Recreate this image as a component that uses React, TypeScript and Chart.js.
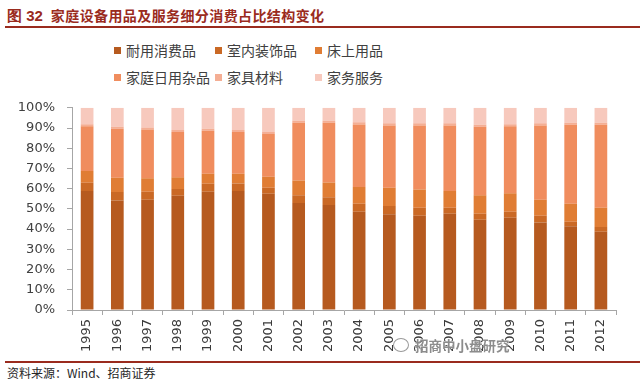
import React, { useEffect, useRef } from "react";
import { Chart, registerables } from "chart.js";

Chart.register(...registerables);

const years = ["1995","1996","1997","1998","1999","2000","2001","2002","2003","2004","2005","2006","2007","2008","2009","2010","2011","2012"];
const seriesNames = ["耐用消费品", "室内装饰品", "床上用品", "家庭日用杂品", "家具材料", "家务服务"];
const seriesColors = ["#B65A1F", "#CA6925", "#E07D34", "#F08D5E", "#F4AE94", "#F7C9BD"];

const durable = [58.8, 54.2, 54.5, 56.5, 58.5, 58.8, 57.5, 52.9, 51.9, 48.6, 47.3, 46.6, 47.6, 44.6, 45.6, 43.3, 41.4, 38.7];
const interior = [4.1, 4.1, 4.0, 3.3, 3.9, 3.8, 3.0, 3.9, 3.9, 4.0, 4.1, 4.0, 3.0, 3.0, 3.0, 3.3, 2.3, 2.3];
const bedding = [5.8, 7.1, 6.6, 5.9, 5.0, 4.8, 5.4, 7.3, 7.3, 8.2, 9.1, 9.0, 8.2, 9.2, 9.2, 7.9, 8.9, 9.6];
const dailyGoods = [22.2, 24.2, 24.2, 22.3, 21.2, 20.6, 21.1, 28.5, 29.5, 31.0, 30.8, 31.7, 32.5, 33.8, 33.1, 36.8, 39.0, 41.0];
const furnitureMaterials = [1.0, 1.0, 1.0, 1.0, 1.0, 1.0, 1.0, 1.0, 1.0, 1.0, 1.0, 1.0, 1.0, 1.0, 1.0, 1.0, 1.0, 1.0];
const householdServices = [8.1, 9.4, 9.7, 11.0, 10.4, 11.0, 12.0, 6.4, 6.4, 7.2, 7.7, 7.7, 7.7, 8.4, 8.1, 7.7, 7.4, 7.4];

const seriesValues = [durable, interior, bedding, dailyGoods, furnitureMaterials, householdServices];
const yTicks = [0, 10, 20, 30, 40, 50, 60, 70, 80, 90, 100];

const CANVAS_TOP = 88;
const CANVAS_W = 640;
const CANVAS_H = 269;

export default function App() {
  const ref = useRef<HTMLCanvasElement | null>(null);

  useEffect(() => {
    if (!ref.current) return;
    const chart = new Chart(ref.current, {
      type: "bar",
      data: {
        labels: years,
        datasets: seriesNames.map((name, i) => ({
          label: name,
          data: seriesValues[i],
          backgroundColor: seriesColors[i],
          borderWidth: 0,
          barPercentage: 0.42,
          categoryPercentage: 1,
        })),
      },
      options: {
        responsive: false,
        devicePixelRatio: 1,
        animation: false,
        layout: { padding: { left: 0, right: 24, top: 6, bottom: 0 } },
        plugins: {
          legend: { display: false },
          tooltip: { enabled: false },
          title: { display: false },
        },
        scales: {
          x: {
            stacked: true,
            grid: {
              offset: true,
              drawOnChartArea: false,
              drawTicks: true,
              tickLength: 5,
              color: "#a6a6a6",
            },
            border: { color: "#a6a6a6", width: 1 },
            ticks: {
              autoSkip: false,
              minRotation: 90,
              maxRotation: 90,
              padding: 4,
              color: "#3a3a3a",
              font: { family: "'DejaVu Sans', sans-serif", size: 13 },
            },
            afterFit: (scale: any) => {
              scale.height = 47;
            },
          },
          y: {
            stacked: true,
            min: 0,
            max: 100,
            afterBuildTicks: (scale: any) => {
              scale.ticks = yTicks.map((v) => ({ value: v }));
            },
            grid: {
              drawOnChartArea: false,
              drawTicks: true,
              tickLength: 5,
              color: "#a6a6a6",
            },
            border: { color: "#a6a6a6", width: 1 },
            ticks: {
              padding: 12,
              color: "#404040",
              font: { family: "'DejaVu Sans', sans-serif", size: 13 },
              callback: (v: any) => v + "%",
            },
            afterFit: (scale: any) => {
              scale.width = 72;
            },
          },
        },
      },
    });
    return () => chart.destroy();
  }, []);

  const cjkFont = "'Noto Sans CJK SC', 'Noto Sans', sans-serif";

  return (
    <div
      style={{
        position: "absolute",
        left: 0,
        top: 0,
        width: 640,
        height: 386,
        background: "#fff",
        overflow: "hidden",
        fontFamily: cjkFont,
      }}
    >
      {/* Title */}
      <div
        style={{
          position: "absolute",
          left: 7,
          top: 5,
          fontSize: 14,
          lineHeight: "20px",
          fontWeight: 700,
          color: "#9A2B1E",
          whiteSpace: "nowrap",
        }}
      >
        <span style={{ fontFamily: "'Liberation Sans', Arial, sans-serif", fontSize: 15 }}>图 32</span>
        <span style={{ marginLeft: 8, letterSpacing: 0.4, fontWeight: 600 }}>家庭设备用品及服务细分消费占比结构变化</span>
      </div>
      <div style={{ position: "absolute", left: 5, top: 26, width: 635, height: 2, background: "#9A2B1E" }} />

      {/* Legend */}
      {seriesNames.map((name, i) => {
        const col = i % 3;
        const row = Math.floor(i / 3);
        const x = [114, 215, 315][col];
        const y = [50, 77][row];
        return (
          <div
            key={name}
            style={{
              position: "absolute",
              left: x,
              top: y - 10,
              height: 20,
              display: "flex",
              alignItems: "center",
              whiteSpace: "nowrap",
            }}
          >
            <span style={{ display: "inline-block", width: 7, height: 7, background: seriesColors[i], marginRight: 5 }} />
            <span style={{ fontSize: 14, color: "#404040", lineHeight: "20px" }}>{name}</span>
          </div>
        );
      })}

      {/* Chart */}
      <canvas
        ref={ref}
        width={CANVAS_W}
        height={CANVAS_H}
        style={{ position: "absolute", left: 0, top: CANVAS_TOP, width: CANVAS_W, height: CANVAS_H }}
      />

      {/* Watermark */}
      <div
        style={{
          position: "absolute",
          left: 393,
          top: 335,
          display: "flex",
          alignItems: "center",
          whiteSpace: "nowrap",
        }}
      >
        <span
          style={{
            display: "inline-block",
            width: 14,
            height: 12,
            borderRadius: "50%",
            border: "1.5px solid #9a9a9a",
            marginRight: 6,
          }}
        />
        <span
          style={{
            fontSize: 13.5,
            color: "#8c8c8c",
            fontWeight: 700,
            textShadow: "0 0 1px #fff, 0 0 1px #fff",
          }}
        >
          招商中小盘研究
        </span>
      </div>

      {/* Footer */}
      <div style={{ position: "absolute", left: 5, top: 361, width: 635, height: 2, background: "#9A2B1E" }} />
      <div
        style={{
          position: "absolute",
          left: 7,
          top: 364,
          fontSize: 12,
          lineHeight: "18px",
          color: "#262626",
          whiteSpace: "nowrap",
        }}
      >
        资料来源：Wind、招商证券
      </div>
    </div>
  );
}
